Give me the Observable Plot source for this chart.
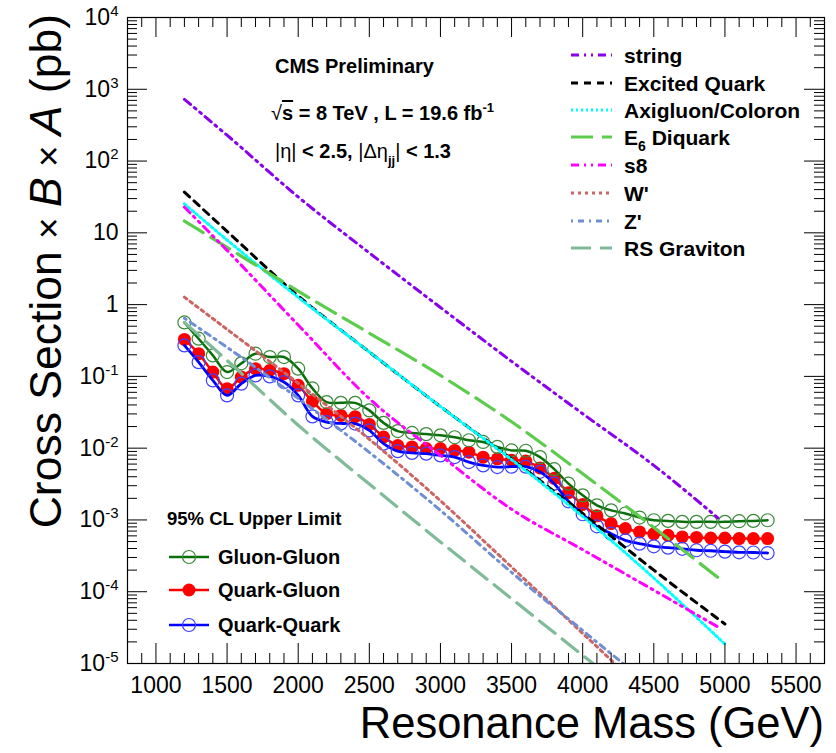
<!DOCTYPE html>
<html><head><meta charset="utf-8">
<script src="https://cdn.jsdelivr.net/npm/d3@7"></script>
<script src="https://cdn.jsdelivr.net/npm/@observablehq/plot@0.6"></script>
<style>
body{margin:0;background:#fff;}
</style></head><body><div id="chart"></div>
<script>
// ---------- data ----------
const masses = [1200,1300,1400,1500,1600,1700,1800,1900,2000,2100,2200,2300,2400,2500,2600,2700,2800,2900,3000,3100,3200,3300,3400,3500,3600,3700,3800,3900,4000,4100,4200,4300,4400,4500,4600,4700,4800,4900,5000,5100,5200,5300];
const gluonGluon = [0.565,0.335,0.196,0.115,0.152,0.207,0.186,0.186,0.128,0.068,0.0439,0.0428,0.0428,0.0336,0.0225,0.0173,0.0163,0.0157,0.0151,0.0142,0.0129,0.0122,0.0104,0.0093,0.0092,0.0075,0.0051,0.0032,0.0022,0.0016,0.00136,0.00123,0.00108,0.00099,0.00097,0.00094,0.00094,0.00094,0.00094,0.00096,0.00097,0.00099];
const quarkGluon = [0.327,0.207,0.115,0.0674,0.0977,0.128,0.121,0.109,0.075,0.0449,0.0302,0.0286,0.0275,0.0214,0.0143,0.0109,0.0104,0.0099,0.0099,0.0093,0.0088,0.0075,0.0071,0.0068,0.0066,0.0053,0.0038,0.0024,0.00164,0.00114,0.00089,0.00076,0.00068,0.00064,0.00061,0.00058,0.00057,0.00056,0.00056,0.00055,0.00055,0.00055];
const quarkQuark = [0.270,0.158,0.0879,0.0544,0.0791,0.1032,0.100,0.0834,0.0544,0.0277,0.0231,0.0221,0.0220,0.0177,0.01156,0.00908,0.00859,0.00838,0.00794,0.00752,0.0064,0.00575,0.00546,0.00552,0.00552,0.00468,0.0032,0.00182,0.0012,0.000815,0.000644,0.00052,0.000468,0.000429,0.000411,0.000396,0.000378,0.000372,0.000362,0.000354,0.000352,0.000346];

const stringMass = [1200,1500,2000,2500,3000,3500,4000,4500,4950];
const stringXS   = [724,229,31.6,5.25,0.912,0.162,0.0302,0.00575,0.00107];
const excitedMass = [1200,1500,2000,2500,3000,3500,4000,4500,5000];
const excitedXS   = [36.9,10.5,1.32,0.219,0.038,0.00708,0.00123,0.0002,3.55e-5];
const axigluonMass = [1200,1500,2000,2500,3000,3500,4000,4500,5000];
const axigluonXS   = [25.4,7.94,1.26,0.219,0.038,0.00692,0.00112,1.55e-4,1.86e-5];
const diquarkMass = [1200,1500,2000,2500,3000,3500,4000,4500,4950];
const diquarkXS   = [14.6,6.28,1.54,0.40,0.103,0.0233,0.0044,7.85e-4,1.58e-4];
const s8Mass = [1200,1500,2000,2500,3000,3500,4000,4500,4950];
const s8XS   = [22.8,5.69,0.52,0.049,0.00794,0.00141,3.85e-4,1.05e-4,3.24e-5];
const wprimeMass = [1200,1500,2000,2500,3000,3500,4000,4500];
const wprimeXS   = [1.27,0.452,0.0802,0.0133,0.00185,2.21e-4,2.63e-5,3.09e-6];
const zprimeMass = [1200,1500,2000,2500,3000,3500,4000,4500];
const zprimeXS   = [0.646,0.254,0.0494,0.00875,0.00136,1.86e-4,2.88e-5,4.47e-6];
const rsgMass = [1200,1500,2000,2500,3000,3500,4000,4500];
const rsgXS   = [0.565,0.167,0.0209,0.00316,4.94e-4,8.0e-5,1.3e-5,2.09e-6];

const xTickValues = [1000,1500,2000,2500,3000,3500,4000,4500,5000,5500];
const xTickLabels = ["1000","1500","2000","2500","3000","3500","4000","4500","5000","5500"];
const yTickValues = [1e-5,1e-4,1e-3,1e-2,1e-1,1,10,100,1000,10000];
const yTickLabels = ["10^-5","10^-4","10^-3","10^-2","10^-1","1","10","10^2","10^3","10^4"];

// ---------- layout ----------
const FONT = "'Liberation Sans', Arial, Helvetica, sans-serif";
const W = 836, H = 753, mL = 127, mR = 12, mT = 17, mB = 90;
const fw = W - mL - mR, fh = H - mT - mB;

const limits = masses.map((m, i) => ({m, gg: gluonGluon[i], qg: quarkGluon[i], qq: quarkQuark[i]}));
const series = (mass, xs) => mass.map((m, i) => ({m, v: xs[i]}));

const theory = [
  {label: "string", data: series(stringMass, stringXS), color: "#8800ee", dash: "8,5,2,5,2,5", w: 3},
  {label: "Excited Quark", data: series(excitedMass, excitedXS), color: "#000000", dash: "7,6", w: 3},
  {label: "Axigluon/Coloron", data: series(axigluonMass, axigluonXS), color: "#00ffff", dash: "2,3", w: 3},
  {label: "E6 Diquark", data: series(diquarkMass, diquarkXS), color: "#5ccc4c", dash: "22,9", w: 3.2},
  {label: "s8", data: series(s8Mass, s8XS), color: "#ff00ff", dash: "8,5,2,5,2,5", w: 3},
  {label: "W'", data: series(wprimeMass, wprimeXS), color: "#cc6464", dash: "3,4", w: 3},
  {label: "Z'", data: series(zprimeMass, zprimeXS), color: "#6f8fd2", dash: "2,5,6,5", w: 3},
  {label: "RS Graviton", data: series(rsgMass, rsgXS), color: "#80bb99", dash: "20,9", w: 3.2}
];

const xMinor = d3.range(800, 5701, 100).filter(v => v % 500 !== 0);
const yMinor = [];
for (let d = -5; d < 4; d++) for (let k = 2; k <= 9; k++) yMinor.push(k * Math.pow(10, d));

const GG_LINE = "#0a6e0a", GG_MK = "#3a8a3a", QG = "#ff0000", QQ_LINE = "#0000ff", QQ_MK = "#4040ff";

const svg = Plot.plot({
  width: W, height: H,
  marginLeft: mL, marginRight: mR, marginTop: mT, marginBottom: mB,
  style: {fontFamily: FONT, fontSize: "23px", color: "black", background: "white", overflow: "visible"},
  x: {domain: [800, 5700], axis: null},
  y: {type: "log", domain: [1e-5, 1e4], axis: null},
  marks: [
    // limit curves
    Plot.line(limits, {x: "m", y: "qg", stroke: QG, strokeWidth: 2.5, curve: "catmull-rom"}),
    Plot.dot(limits, {x: "m", y: "qg", r: 6.5, fill: QG, stroke: "none"}),
    Plot.line(limits, {x: "m", y: "gg", stroke: GG_LINE, strokeWidth: 2.5, curve: "catmull-rom"}),
    Plot.dot(limits, {x: "m", y: "gg", r: 6.5, fill: "none", stroke: GG_MK, strokeWidth: 1.2}),
    Plot.line(limits, {x: "m", y: "qq", stroke: QQ_LINE, strokeWidth: 2.8, curve: "catmull-rom"}),
    Plot.dot(limits, {x: "m", y: "qq", r: 6.5, fill: "none", stroke: QQ_MK, strokeWidth: 1.2}),
    // theory curves
    ...theory.map(t => Plot.line(t.data, {x: "m", y: "v", stroke: t.color, strokeWidth: t.w, strokeDasharray: t.dash, curve: "monotone-x", clip: true})),
    // ticks
    Plot.tickX(xTickValues, {x: d => d, insetTop: fh - 20, stroke: "black"}),
    Plot.tickX(xMinor, {x: d => d, insetTop: fh - 10, stroke: "black"}),
    Plot.tickX(xTickValues, {x: d => d, insetBottom: fh - 20, stroke: "black"}),
    Plot.tickX(xMinor, {x: d => d, insetBottom: fh - 10, stroke: "black"}),
    Plot.tickY(yTickValues, {y: d => d, insetRight: fw - 20, stroke: "black"}),
    Plot.tickY(yMinor, {y: d => d, insetRight: fw - 10, stroke: "black"}),
    Plot.tickY(yTickValues, {y: d => d, insetLeft: fw - 20, stroke: "black"}),
    Plot.tickY(yMinor, {y: d => d, insetLeft: fw - 10, stroke: "black"}),
    Plot.frame({stroke: "black", strokeWidth: 1.2}),
    // tick labels
    Plot.text(xTickValues, {x: d => d, frameAnchor: "bottom", dy: 29, text: (d, i) => xTickLabels[i], fontSize: 23, fill: "black"}),
    Plot.text(yTickValues, {y: d => d, frameAnchor: "left", textAnchor: "end", dx: -9, text: (d, i) => yTickLabels[i], fontSize: 23, fill: "black"})
  ]
});

const s = d3.select(svg);
// superscripts in y tick labels
s.selectAll("text").each(function() {
  const t = d3.select(this), str = t.text();
  if (str.startsWith("10^")) {
    const [b, e] = str.split("^");
    t.text(b);
    t.append("tspan").attr("dy", -9).attr("font-size", 15).text(e);
  }
});

// axis titles
s.append("text").attr("x", 824).attr("y", 738).attr("text-anchor", "end")
  .attr("font-family", FONT).attr("font-size", 43.5).attr("fill", "black").text("Resonance Mass (GeV)");
const yt = s.append("text").attr("transform", "translate(61,14) rotate(-90)").attr("text-anchor", "end")
  .attr("font-family", FONT).attr("font-size", 44.5).attr("fill", "black");
yt.append("tspan").text("Cross Section ");
yt.append("tspan").attr("font-size", 37).text("× ");
yt.append("tspan").attr("font-style", "italic").text("B");
yt.append("tspan").attr("font-size", 37).text(" × ");
yt.append("tspan").attr("font-style", "italic").text("A");
yt.append("tspan").text(" (pb)");

// annotations
const ann = s.append("g").attr("font-family", FONT).attr("font-weight", "bold").attr("fill", "black").attr("text-anchor", "start");
ann.append("text").attr("x", 275).attr("y", 73).attr("font-size", 20).text("CMS Preliminary");
const l2 = ann.append("text").attr("x", 271).attr("y", 120).attr("font-size", 20);
l2.append("tspan").attr("font-weight", "normal").text("√");
l2.append("tspan").attr("text-decoration", "overline").text("s");
l2.append("tspan").text(" = 8 TeV , L = 19.6 fb");
l2.append("tspan").attr("dy", -8).attr("font-size", 13).text("-1");
const l3 = ann.append("text").attr("x", 275).attr("y", 158).attr("font-size", 20);
l3.append("tspan").attr("font-weight", "normal").text("|η|");
l3.append("tspan").text(" < 2.5, ");
l3.append("tspan").attr("font-weight", "normal").text("|Δη");
l3.append("tspan").attr("dy", 7).attr("font-size", 13).text("jj");
l3.append("tspan").attr("dy", -7).attr("font-weight", "normal").text("|");
l3.append("tspan").text(" < 1.3");

// theory legend
const rows = [55, 83, 110, 137, 165, 193, 221, 248];
const lg = s.append("g").attr("font-family", FONT).attr("font-weight", "bold").attr("fill", "black").attr("font-size", 21).attr("text-anchor", "start");
theory.forEach((t, i) => {
  const y = rows[i];
  lg.append("line").attr("x1", 571).attr("x2", 612).attr("y1", y).attr("y2", y)
    .attr("stroke", t.color).attr("stroke-width", t.w).attr("stroke-dasharray", t.dash);
  const tx = lg.append("text").attr("x", 624).attr("y", y + 8);
  if (t.label === "E6 Diquark") {
    tx.append("tspan").text("E");
    tx.append("tspan").attr("dy", 6).attr("font-size", 14).text("6");
    tx.append("tspan").attr("dy", -6).text(" Diquark");
  } else tx.text(t.label);
});

// limit legend
const ll = s.append("g").attr("font-family", FONT).attr("font-weight", "bold").attr("fill", "black").attr("text-anchor", "start");
ll.append("text").attr("x", 167).attr("y", 525).attr("font-size", 18.5).text("95% CL Upper Limit");
const lims = [
  {label: "Gluon-Gluon", y: 557, line: GG_LINE, mk: GG_MK, filled: false},
  {label: "Quark-Gluon", y: 590, line: QG, mk: QG, filled: true},
  {label: "Quark-Quark", y: 625, line: QQ_LINE, mk: QQ_MK, filled: false}
];
lims.forEach(e => {
  ll.append("line").attr("x1", 169).attr("x2", 209).attr("y1", e.y).attr("y2", e.y).attr("stroke", e.line).attr("stroke-width", 2.5);
  ll.append("circle").attr("cx", 189).attr("cy", e.y).attr("r", 6.5)
    .attr("fill", e.filled ? e.mk : "none").attr("stroke", e.filled ? "none" : e.mk).attr("stroke-width", 1.2);
  ll.append("text").attr("x", 218).attr("y", e.y + 7).attr("font-size", 20).text(e.label);
});

document.getElementById("chart").appendChild(svg);
</script>
</body></html>
